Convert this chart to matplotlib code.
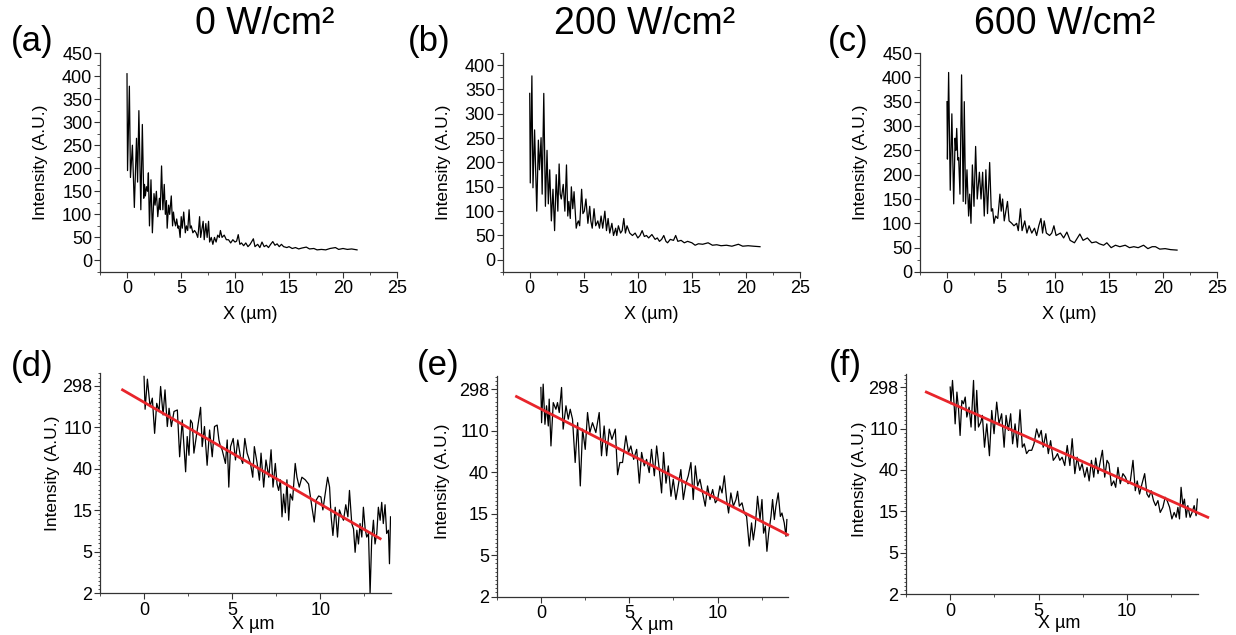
import numpy as np
import matplotlib
matplotlib.use('Agg')
import matplotlib.pyplot as plt
from matplotlib.ticker import MultipleLocator, FixedLocator

plt.rcParams['font.family'] = ['Liberation Sans', 'DejaVu Sans']

titles = ['0 W/cm²', '200 W/cm²', '600 W/cm²']
labels_top = ['(a)', '(b)', '(c)']
labels_bot = ['(d)', '(e)', '(f)']

# --- top row: intensity profiles (linear) ---
xa = [0.00, 0.05, 0.22, 0.32, 0.50, 0.68, 0.88, 0.98, 1.10, 1.28, 1.42, 1.55, 1.62, 1.70, 1.80, 1.90,
      1.98, 2.08, 2.22, 2.35, 2.50, 2.60, 2.72, 2.85, 3.00, 3.08, 3.20, 3.32, 3.45, 3.55, 3.65, 3.72,
      3.85, 3.95, 4.10, 4.22, 4.30, 4.40, 4.50, 4.60, 4.72, 4.80, 4.92, 5.02, 5.12, 5.25, 5.40, 5.50,
      5.62, 5.75, 5.85, 5.95, 6.10, 6.25, 6.40, 6.55, 6.62, 6.72, 6.82, 6.95, 7.05, 7.15, 7.30, 7.42,
      7.55, 7.65, 7.80, 7.95, 8.10, 8.25, 8.40, 8.55, 8.65, 8.80, 9.00, 9.20, 9.40, 9.60, 9.80, 10.00,
      10.15, 10.30, 10.45, 10.60, 10.80, 11.00, 11.20, 11.40, 11.70, 11.85, 12.10, 12.30, 12.50, 12.70,
      12.90, 13.10, 13.30, 13.50, 13.70, 13.90, 14.10, 14.30, 14.50, 14.80, 15.00, 15.30, 15.60, 15.90,
      16.20, 16.60, 16.90, 17.30, 17.60, 18.00, 18.40, 18.80, 19.30, 19.60, 20.00, 20.40, 20.80, 21.30]
ya = [405, 195, 378, 180, 250, 115, 265, 170, 325, 110, 295, 135, 165, 140, 160, 150,
      190, 75, 175, 60, 145, 120, 150, 95, 135, 110, 205, 110, 165, 100, 130, 70,
      120, 100, 140, 75, 105, 85, 75, 90, 70, 75, 50, 95, 70, 105, 60, 75,
      65, 110, 70, 75, 60, 65, 60, 50, 65, 95, 50, 70, 85, 45, 80, 50,
      85, 40, 50, 35, 50, 40, 55, 50, 65, 50, 55, 45, 45, 38, 45, 40,
      42, 56, 35, 38, 32, 38, 30, 35, 47, 30, 35, 28, 40, 30,
      33, 28, 35, 41, 33, 36, 30, 35, 30, 28, 30, 26, 28, 25,
      27, 29, 25, 26, 23, 24, 23, 26, 28, 24, 26, 24, 25, 23]

xb = [0.00, 0.05, 0.20, 0.30, 0.45, 0.65, 0.80, 0.90, 1.05, 1.15, 1.30, 1.45, 1.60, 1.72, 1.85, 2.00,
      2.15, 2.30, 2.45, 2.60, 2.72, 2.82, 2.92, 3.10, 3.25, 3.40, 3.52, 3.62, 3.75, 3.85, 3.98, 4.10,
      4.30, 4.40, 4.50, 4.62, 4.80, 4.92, 5.05, 5.20, 5.38, 5.55, 5.65, 5.78, 5.95, 6.10, 6.30, 6.45,
      6.60, 6.75, 6.95, 7.10, 7.25, 7.40, 7.60, 7.75, 7.95, 8.05, 8.20, 8.40, 8.55, 8.70, 8.85, 9.00,
      9.25, 9.50, 9.75, 10.00, 10.20, 10.40, 10.60, 10.80, 11.00, 11.30, 11.60, 11.80, 12.00, 12.20,
      12.40, 12.60, 12.75, 13.00, 13.30, 13.50, 13.70, 14.00, 14.30, 14.60, 15.00, 15.30, 15.60, 16.00,
      16.50, 16.90, 17.30, 17.70, 18.20, 18.70, 19.30, 19.70, 20.20, 20.70, 21.30]
yb = [342, 158, 378, 148, 267, 100, 246, 185, 251, 135, 342, 110, 225, 115, 185, 80,
      145, 60, 175, 100, 197, 135, 125, 155, 100, 195, 90, 120, 85, 150, 105, 140,
      65, 75, 80, 70, 145, 95, 100, 125, 75, 110, 80, 65, 105, 70, 80, 65,
      90, 65, 100, 60, 85, 55, 75, 50, 65, 50, 70, 55, 60, 85, 55, 70,
      55, 50, 55, 45, 50, 60, 48, 50, 45, 52, 42, 45, 38, 42,
      50, 38, 35, 42, 40, 50, 38, 40, 35, 38, 35, 30, 33, 32,
      35, 30, 31, 29, 30, 28, 32, 28, 29, 28, 27]

xc = [0.00, 0.04, 0.15, 0.30, 0.45, 0.62, 0.75, 0.82, 0.90, 1.00, 1.08, 1.20, 1.35, 1.50, 1.60, 1.72,
      1.85, 2.00, 2.10, 2.22, 2.35, 2.50, 2.65, 2.80, 3.00, 3.15, 3.30, 3.45, 3.60, 3.75, 3.95, 4.10,
      4.22, 4.35, 4.50, 4.70, 4.90, 5.02, 5.15, 5.30, 5.45, 5.60, 5.75, 6.00, 6.20, 6.45, 6.60, 6.80,
      6.95, 7.20, 7.40, 7.60, 7.85, 8.10, 8.30, 8.50, 8.70, 8.85, 9.00, 9.20, 9.50, 9.70, 9.90, 10.10,
      10.50, 10.80, 11.10, 11.40, 11.80, 12.30, 12.60, 13.00, 13.40, 13.80, 14.10, 14.50, 14.80, 15.20,
      15.60, 16.00, 16.50, 16.90, 17.30, 17.70, 18.20, 18.60, 19.00, 19.30, 19.70, 20.20, 20.70, 21.30]
yc = [350, 232, 410, 168, 325, 140, 275, 250, 295, 230, 235, 160, 405, 145, 350, 140,
      210, 115, 160, 100, 220, 135, 258, 150, 205, 150, 205, 115, 210, 120, 225, 125,
      130, 100, 115, 110, 160, 125, 150, 105, 125, 145, 105, 100, 95, 100, 85, 130,
      85, 105, 80, 95, 80, 90, 75, 95, 110, 80, 105, 80, 75, 80, 95, 75,
      80, 70, 82, 65, 60, 78, 65, 70, 60, 62, 58, 55, 60, 50,
      55, 52, 55, 50, 52, 50, 55, 48, 52, 52, 47, 48, 46, 45]

# --- bottom row: background-corrected profiles (log) ---
xd = [0.00, 0.06, 0.19, 0.34, 0.47, 0.60, 0.72, 0.85, 0.94, 1.08, 1.19, 1.32, 1.42, 1.55, 1.70, 1.89,
      2.02, 2.17, 2.36, 2.45, 2.55, 2.64, 2.74, 2.83, 3.02, 3.21, 3.30, 3.43, 3.58, 3.72, 3.87, 4.00,
      4.15, 4.25, 4.34, 4.43, 4.62, 4.72, 4.81, 4.91, 5.06, 5.19, 5.32, 5.47, 5.60, 5.72, 5.85, 6.04,
      6.17, 6.26, 6.42, 6.55, 6.64, 6.79, 6.92, 7.08, 7.21, 7.32, 7.45, 7.55, 7.64, 7.74, 7.83, 7.92,
      8.02, 8.11, 8.21, 8.30, 8.43, 8.58, 8.68, 8.81, 8.96, 9.15, 9.34, 9.53, 9.66, 9.77, 9.91, 10.04,
      10.15, 10.28, 10.42, 10.53, 10.62, 10.72, 10.85, 10.98, 11.09, 11.23, 11.32, 11.45, 11.57, 11.66,
      11.79, 11.89, 11.98, 12.08, 12.17, 12.26, 12.36, 12.45, 12.55, 12.64, 12.74, 12.83, 12.92, 13.02,
      13.11, 13.21, 13.30, 13.40, 13.49, 13.58, 13.68, 13.77, 13.87, 13.93, 13.99]
yd = [375, 170, 351, 181, 222, 95, 196, 161, 294, 148, 271, 112, 174, 112, 161, 167,
      54, 131, 37.6, 88, 56, 131, 121, 59, 103, 178, 69, 112, 44, 103, 54, 112,
      116, 81, 69, 64, 46, 81, 26, 69, 84, 50, 81, 54, 46, 84, 59, 46,
      33, 69, 46, 30.7, 59, 26, 50, 33, 64, 26, 46, 28, 24, 31, 12.7, 22,
      14, 31, 11.7, 22, 19, 46, 33, 26, 33, 31, 28, 16, 11.2, 19, 21, 20.5,
      15, 22, 33, 26, 12.7, 8.1, 16, 7.8, 15, 12.7, 11.7, 17, 12.7, 24,
      10.8, 9.5, 5.4, 9.2, 6.6, 10.8, 7.8, 16, 9.5, 7.8, 8.5, 2.0, 7.2, 11.7,
      6.6, 8.5, 16, 11.7, 18, 10.8, 17, 8.5, 9.2, 4.1, 12.7]

xe = [0.00, 0.04, 0.13, 0.23, 0.32, 0.42, 0.47, 0.57, 0.70, 0.85, 0.94, 1.04, 1.17, 1.26, 1.42, 1.55,
      1.66, 1.79, 1.94, 2.08, 2.23, 2.36, 2.51, 2.64, 2.77, 2.92, 3.11, 3.30, 3.43, 3.58, 3.72, 3.87,
      4.02, 4.21, 4.34, 4.47, 4.62, 4.81, 4.96, 5.09, 5.25, 5.42, 5.57, 5.70, 5.85, 5.98, 6.13, 6.26,
      6.42, 6.55, 6.70, 6.83, 6.94, 7.08, 7.21, 7.36, 7.49, 7.64, 7.77, 7.92, 8.06, 8.21, 8.34, 8.49,
      8.62, 8.74, 8.87, 9.00, 9.15, 9.30, 9.43, 9.57, 9.72, 9.87, 10.00, 10.13, 10.25, 10.38, 10.51,
      10.62, 10.75, 10.89, 11.04, 11.13, 11.23, 11.38, 11.51, 11.64, 11.79, 11.92, 12.02, 12.13, 12.26,
      12.40, 12.51, 12.60, 12.70, 12.79, 12.89, 13.02, 13.11, 13.21, 13.30, 13.43, 13.55, 13.64, 13.77,
      13.87, 13.92]
ye = [311, 133, 337, 128, 200, 123, 235, 76, 216, 184, 216, 170, 311, 114, 200, 145,
      184, 145, 51, 133, 29, 114, 70, 170, 105, 133, 105, 170, 60, 123, 60, 114,
      89, 114, 38, 51, 51, 97, 65, 76, 55, 70, 31, 65, 47, 55, 40, 70,
      37, 76, 43, 24.5, 65, 31, 47, 22.6, 34, 20.9, 29, 43, 20.9, 31, 37, 51,
      20.9, 47, 29, 34, 24.5, 17.8, 29, 20.9, 26.6, 19.3, 20.9, 29, 24.5, 37, 20.9,
      15.1, 24.5, 17.8, 20.9, 25.5, 17.8, 19.3, 15.1, 13.9, 6.8, 11.9, 7.9, 11.0, 22.6,
      12.9, 20.9, 9.3, 11.0, 6.0, 9.3, 13.9, 20.9, 12.9, 17.8, 24.5, 13.9, 15.1, 11.9,
      8.6, 12.9]

xf = [0.00, 0.04, 0.13, 0.23, 0.28, 0.38, 0.47, 0.56, 0.66, 0.75, 0.85, 0.94, 1.07, 1.18, 1.32, 1.41,
      1.50, 1.60, 1.73, 1.82, 1.94, 2.07, 2.22, 2.35, 2.48, 2.63, 2.76, 2.91, 3.05, 3.16, 3.29, 3.42,
      3.53, 3.67, 3.80, 3.95, 4.08, 4.19, 4.32, 4.45, 4.61, 4.74, 4.89, 5.02, 5.15, 5.26, 5.41, 5.55,
      5.68, 5.83, 5.96, 6.07, 6.20, 6.33, 6.48, 6.62, 6.77, 6.90, 7.05, 7.18, 7.33, 7.46, 7.61, 7.74,
      7.86, 7.99, 8.12, 8.23, 8.36, 8.50, 8.61, 8.74, 8.87, 8.98, 9.12, 9.25, 9.36, 9.49, 9.62, 9.77,
      9.91, 10.06, 10.19, 10.34, 10.47, 10.58, 10.71, 10.85, 11.00, 11.13, 11.24, 11.37, 11.50, 11.62,
      11.75, 11.88, 12.03, 12.16, 12.27, 12.41, 12.54, 12.67, 12.78, 12.88, 12.97, 13.06, 13.16, 13.25,
      13.35, 13.44, 13.57, 13.68, 13.80, 13.91, 13.98]
yf = [299, 200, 351, 184, 123, 265, 177, 93, 216, 200, 235, 145, 184, 114, 351, 105,
      276, 114, 128, 151, 70, 123, 57, 170, 97, 208, 123, 157, 70, 151, 105, 157,
      76, 123, 70, 173, 70, 76, 60, 65, 65, 76, 109, 89, 105, 70, 97, 60,
      82, 51, 55, 60, 51, 55, 45, 73, 45, 86, 37, 55, 40, 47, 34, 43,
      31, 51, 34, 54, 37, 51, 65, 34, 51, 47, 27.7, 31, 26.6, 43, 29, 37,
      34, 29, 31, 51, 24.5, 31, 22.6, 29, 37, 22.6, 20.9, 24.5, 19.3, 17.1,
      19.3, 14.5, 16.4, 20.9, 19.3, 16.4, 12.4, 14.5, 12.9, 16.4, 12.4, 26.6, 17.1, 20.0,
      12.9, 17.1, 12.9, 14.5, 17.1, 13.4, 20.0]

# linear fits on the log plots, end points
fit_x = [[-1.22, 13.40], [-1.38, 13.96], [-1.35, 14.57]]
fit_y = [[271, 7.5], [250, 8.95], [265, 12.9]]

top_x = [xa, xb, xc]
top_y = [ya, yb, yc]
top_ylim = [(-25, 450), (-25, 425), (0, 450)]
top_ymax_tick = [450, 400, 450]
bot_x = [xd, xe, xf]
bot_y = [yd, ye, yf]

log_ticks = [2.01, 5.47, 14.9, 40.4, 110, 299]
log_tick_labels = ['2', '5', '15', '40', '110', '298']

W, H = 1236, 635
# axes boxes in pixels: left, right, top, bottom
top_boxes = [(100, 397, 53, 272), (502.7, 800, 53, 272), (920, 1217, 53, 272)]
bot_boxes = [(100, 390.7, 372.7, 593.3), (496.7, 788.3, 376, 596.7), (906, 1197.7, 374, 594.3)]
title_x = [265, 645, 1065]
lab_top_pos = [(32, 41.5), (429, 41.5), (848, 41)]
lab_bot_pos = [(32, 367), (438, 366), (845, 365)]
ylab_top_x = [-0.199, -0.2, -0.202]
ylab_bot = [(-0.162, 0.543), (-0.186, 0.521), (-0.161, 0.523)]
xlab_top_x = [0.505, 0.498, 0.502]
xlab_bot = [(0.526, -0.142), (0.532, -0.131), (0.525, -0.133)]

red = '#e8252b'
spine_col = '#333333'

fig = plt.figure(figsize=(W / 100, H / 100), dpi=100)


def make_ax(box):
    l, r, t, b = box
    ax = fig.add_axes([l / W, 1 - b / H, (r - l) / W, (b - t) / H])
    ax.spines['top'].set_visible(False)
    ax.spines['right'].set_visible(False)
    for s in ['left', 'bottom']:
        ax.spines[s].set_color(spine_col)
        ax.spines[s].set_linewidth(0.9)
    ax.tick_params(which='major', length=4, width=0.8, color=spine_col, labelsize=13, pad=2)
    ax.tick_params(which='minor', length=2, width=0.6, color=spine_col)
    ax.tick_params(axis='y', pad=1.5)
    return ax


for i in range(3):
    ax = make_ax(top_boxes[i])
    ax.plot(top_x[i], top_y[i], color='k', lw=0.9)
    ax.set_xlim(-2.5, 25)
    ax.set_ylim(*top_ylim[i])
    ax.set_xticks(np.arange(0, 26, 5))
    ax.xaxis.set_minor_locator(MultipleLocator(2.5))
    ax.set_yticks(np.arange(0, top_ymax_tick[i] + 1, 50))
    ax.yaxis.set_minor_locator(MultipleLocator(25))
    ax.text(ylab_top_x[i], 0.5, 'Intensity (A.U.)', transform=ax.transAxes, rotation=90,
            ha='center', va='center', fontsize=12.5)
    ax.text(xlab_top_x[i], -0.196, 'X (µm)', transform=ax.transAxes,
            ha='center', va='center', fontsize=13)
    fig.text(title_x[i] / W, 1 - 24 / H, titles[i], ha='center', va='center', fontsize=27)
    fig.text(lab_top_pos[i][0] / W, 1 - lab_top_pos[i][1] / H, labels_top[i],
             ha='center', va='center', fontsize=25)

for i in range(3):
    ax = make_ax(bot_boxes[i])
    ax.plot(bot_x[i], bot_y[i], color='k', lw=0.9)
    ax.plot(fit_x[i], fit_y[i], color=red, lw=2, clip_on=False)
    ax.set_yscale('log')
    ax.set_xlim(-2.5, 14)
    ax.set_ylim(2.01, 410)
    ax.set_xticks([0, 5, 10])
    ax.xaxis.set_minor_locator(MultipleLocator(2.5))
    ax.yaxis.set_major_locator(FixedLocator(log_ticks))
    ax.yaxis.set_minor_locator(FixedLocator(np.exp(np.arange(0.7, 6.05, 0.1))))
    ax.yaxis.set_minor_formatter(plt.NullFormatter())
    ax.set_yticklabels(log_tick_labels)
    ax.tick_params(axis='y', which='minor', length=1.5)
    ax.text(ylab_bot[i][0], ylab_bot[i][1], 'Intensity (A.U.)', transform=ax.transAxes, rotation=90,
            ha='center', va='center', fontsize=12.5)
    ax.text(xlab_bot[i][0], xlab_bot[i][1], 'X µm', transform=ax.transAxes,
            ha='center', va='center', fontsize=13)
    fig.text(lab_bot_pos[i][0] / W, 1 - lab_bot_pos[i][1] / H, labels_bot[i],
             ha='center', va='center', fontsize=25)

fig.savefig('out.png', dpi=100)
